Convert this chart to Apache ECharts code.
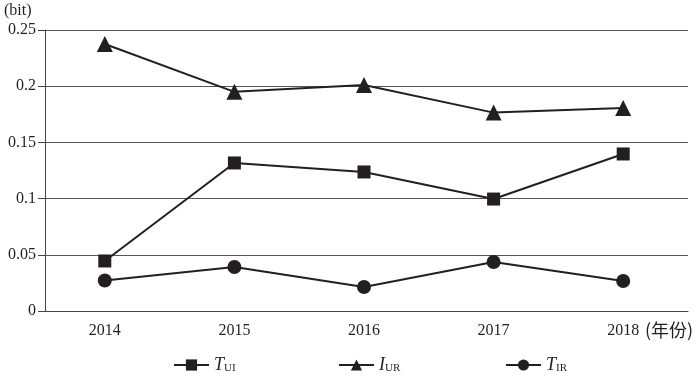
<!DOCTYPE html>
<html>
<head>
<meta charset="utf-8">
<script src="https://cdn.jsdelivr.net/npm/echarts@6/dist/echarts.min.js"></script>
<style>html,body{margin:0;padding:0;background:#fff}#c{width:700px;height:378px}</style>
</head>
<body>
<div id="c"></div>
<script>
var years = ['2014', '2015', '2016', '2017', '2018'];
var tUI = [0.0445, 0.1317, 0.1237, 0.0996, 0.1397];
var iUR = [0.2375, 0.1950, 0.2010, 0.1765, 0.1805];
var tIR = [0.0271, 0.0391, 0.0214, 0.0436, 0.0267];
var yTicks = { min: 0, max: 0.25, interval: 0.05 };
var names = ['T_UI', 'I_UR', 'T_IR'];

var ink = '#231f20';
var serif = '"Liberation Serif", "DejaVu Serif", serif';
var chart = echarts.init(document.getElementById('c'));

function mkSeries(name, data, symbol, size) {
  return {
    name: name, type: 'line', data: data,
    symbol: symbol, symbolSize: size,
    lineStyle: { color: ink, width: 2 },
    itemStyle: { color: ink },
    emphasis: { disabled: true },
    animation: false
  };
}
var rich = {
  i: { fontFamily: serif, fontSize: 18, fontStyle: 'italic', color: ink, lineHeight: 18, verticalAlign: 'bottom' },
  s: { fontFamily: serif, fontSize: 11, color: ink, lineHeight: 14, verticalAlign: 'bottom' }
};
function fmt(n) {
  var p = n.split('_');
  return '{i|' + p[0] + '}{s|' + p[1] + '}';
}
function mkLegend(name, left) {
  return {
    data: [name], left: left, top: 351, itemWidth: 35, itemHeight: 14,
    formatter: fmt, textStyle: { rich: rich }, itemGap: 4,
    selectedMode: false
  };
}

chart.setOption({
  animation: false,
  grid: { left: 40, right: 12, top: 30, bottom: 67 },
  xAxis: {
    type: 'category', data: years, boundaryGap: true,
    axisLine: { lineStyle: { color: '#444', width: 1 } },
    axisTick: { length: 6, lineStyle: { color: '#444' } },
    axisLabel: { fontFamily: serif, fontSize: 16, color: ink, margin: 12 }
  },
  yAxis: {
    type: 'value', min: yTicks.min, max: yTicks.max, interval: yTicks.interval,
    offset: -5,
    axisLine: { show: true, lineStyle: { color: '#444', width: 1 } },
    axisTick: { show: true, length: 7, lineStyle: { color: '#444' } },
    axisLabel: { fontFamily: serif, fontSize: 16, color: ink, margin: 9 },
    splitLine: { show: true, lineStyle: { color: '#555', width: 1 } }
  },
  legend: [mkLegend(names[0], 168), mkLegend(names[1], 333), mkLegend(names[2], 500)],
  graphic: [
    { type: 'text', left: 4, top: 3, style: { text: '(bit)', font: '16px ' + serif, fill: ink } },
    { type: 'text', left: 645, top: 321, style: { text: '(年份)', font: '18px "Noto Sans CJK SC", serif', fill: ink } }
  ],
  series: [
    mkSeries(names[0], tUI, 'rect', 13),
    mkSeries(names[1], iUR, 'triangle', 16),
    mkSeries(names[2], tIR, 'circle', 14)
  ]
});
</script>
</body>
</html>
